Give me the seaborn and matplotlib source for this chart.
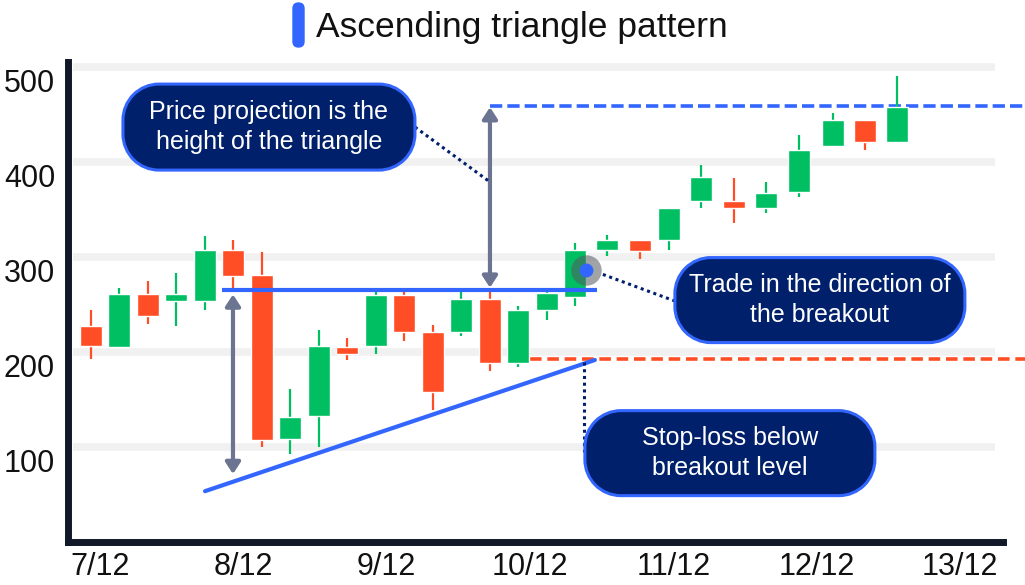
import matplotlib
matplotlib.use("Agg")
import matplotlib.pyplot as plt
import matplotlib.transforms as mtransforms
from matplotlib.patches import FancyBboxPatch, PathPatch
from matplotlib.path import Path
import numpy as np
import pandas as pd
import seaborn as sns

# session times in days (7.0 = 7/12)
sessions = [6.937, 7.133, 7.335, 7.530, 7.733, 7.928, 8.130, 8.326, 8.528, 8.723,
            8.926, 9.121, 9.323, 9.519, 9.721, 9.916, 10.119, 10.314, 10.537, 10.767,
            10.970, 11.193, 11.423, 11.647, 11.877, 12.114, 12.337, 12.560]
opens = [228, 206, 261, 254, 254, 308, 281, 109, 133, 206, 207, 260, 221, 221,
         256, 189, 245, 258, 308, 318, 318, 359, 359, 352, 369, 417, 444, 421]
highs = [245, 268, 275, 284, 322, 318, 306, 162, 224, 215, 268, 263, 229, 263,
         264, 249, 268, 315, 323, 318, 352, 397, 383, 379, 429, 452, 444, 491]
lows = [193, 205, 230, 228, 245, 265, 100, 93, 100, 192, 198, 212, 139, 217,
        180, 185, 234, 249, 301, 298, 308, 352, 336, 347, 363, 417, 413, 421]
closes = [207, 261, 238, 261, 308, 280, 108, 132, 207, 198, 260, 221, 158, 256,
          189, 245, 262, 308, 318, 307, 352, 385, 352, 368, 413, 444, 421, 458]

tick_days = [7, 8, 9, 10, 11, 12, 13]
tick_labels = ["7/12", "8/12", "9/12", "10/12", "11/12", "12/12", "13/12"]
price_ticks = [100, 200, 300, 400, 500]

# pattern levels
resistance = 266
stop_level = 193
target_level = 459
support_days = [7.733, 10.453]
support_prices = [54, 192]
breakout = (10.391, 287)

GREEN = "#00bf63"
RED = "#ff4d26"
BLUE = "#3366ff"
NAVY = "#00206b"
GREY = "#6b7591"
INK = "#111827"

sns.set_theme(style="white")
plt.rcParams["font.family"] = ["Liberation Sans", "DejaVu Sans"]

df = pd.DataFrame({"day": sessions, "open": opens, "high": highs,
                   "low": lows, "close": closes})
df["colour"] = np.where(df["close"] >= df["open"], GREEN, RED)

fig = plt.figure(figsize=(10.25, 5.85), dpi=100)
ax = fig.add_axes([0.06663, 0.07265, 0.91239, 0.82222])
ax.set_xlim(6.779, 13.304)
ax.set_ylim(0, 506)

# grid bands
ax.hlines(price_ticks, 6.812, 13.244, color="#f1f1f1", lw=5.5, zorder=0)

# candles
ax.vlines(df["day"], df["low"], df["high"], colors=df["colour"], lw=1.6, zorder=3)
ax.bar(df["day"], (df["close"] - df["open"]).abs(),
       bottom=df[["open", "close"]].min(axis=1), width=0.155,
       color=df["colour"], zorder=4)

# triangle lines
ax.plot([7.851, 10.467], [resistance, resistance], color=BLUE, lw=3,
        solid_capstyle="butt", zorder=5)
ax.plot(support_days, support_prices, color=BLUE, lw=3, zorder=5)
ax.plot([9.721, 13.454], [target_level, target_level], color=BLUE, lw=2.6,
        dashes=(3.4, 1.4), clip_on=False, zorder=2)
ax.plot([10.0, 13.454], [stop_level, stop_level], color=RED, lw=2.6,
        dashes=(3.2, 1.6), clip_on=False, zorder=2)

# height arrows
arrow = dict(arrowstyle="<|-|>,head_length=0.34,head_width=0.22", color=GREY,
             lw=3, shrinkA=0, shrinkB=0, mutation_scale=20)
ax.annotate("", xy=(7.928, 261), xytext=(7.928, 72), arrowprops=arrow, zorder=6)
ax.annotate("", xy=(9.721, 458), xytext=(9.721, 268), arrowprops=arrow, zorder=6)

# breakout marker
sns.scatterplot(x=[breakout[0]], y=[breakout[1]], s=480, color="#55595f",
                alpha=0.55, linewidth=0, ax=ax, zorder=7)
sns.scatterplot(x=[breakout[0]], y=[breakout[1]], s=100, color=BLUE,
                linewidth=0, ax=ax, zorder=8)

# dotted connectors
dot = dict(color=NAVY, lw=2.2, linestyle=(0, (1, 1.2)), zorder=7)
ax.plot([9.198, 9.714], [437, 380], **dot)
ax.plot([10.509, 11.012], [282, 254], **dot)
ax.plot([10.377, 10.377], [190, 95], **dot)


def rounded_rect(w, h, r):
    # rectangle centred on 0 with true circular corners
    corners = [(w / 2 - r, -h / 2 + r, -90), (w / 2 - r, h / 2 - r, 0),
               (-w / 2 + r, h / 2 - r, 90), (-w / 2 + r, -h / 2 + r, 180)]
    verts, codes = [], []
    for cx, cy, start in corners:
        arc = Path.arc(start, start + 90)
        pts = arc.vertices * r + [cx, cy]
        cds = list(arc.codes)
        cds[0] = Path.MOVETO if not verts else Path.LINETO
        verts.extend(pts)
        codes.extend(cds)
    verts.append(verts[0])
    codes.append(Path.CLOSEPOLY)
    return Path(verts, codes)


def callout(x, y, text, w=2.92, h=0.86):
    tr = fig.dpi_scale_trans + mtransforms.ScaledTranslation(x, y, ax.transData)
    box = PathPatch(rounded_rect(w, h, 0.36), facecolor=NAVY, edgecolor=BLUE,
                    lw=2.2, transform=tr, clip_on=False, zorder=9)
    ax.add_patch(box)
    ax.text(x, y, text, ha="center", va="center", color="white", fontsize=18,
            linespacing=1.3, zorder=10)


callout(8.179, 437, "Price projection is the\nheight of the triangle")
callout(12.023, 255, "Trade in the direction of\nthe breakout", w=2.90, h=0.85)
callout(11.395, 94, "Stop-loss below\nbreakout level", w=2.90, h=0.85)

# axes styling
for side in ["top", "right"]:
    ax.spines[side].set_visible(False)
for side in ["left", "bottom"]:
    ax.spines[side].set_color(INK)
    ax.spines[side].set_linewidth(5)
ax.grid(False)
ax.set_xticks(tick_days, tick_labels)
ax.set_yticks(price_ticks)
ax.tick_params(axis="both", length=0, labelsize=22, labelcolor="#111111")
ax.tick_params(axis="x", pad=6.5)
ax.tick_params(axis="y", pad=9.5)
shift = mtransforms.ScaledTranslation(0, -0.13, fig.dpi_scale_trans)
for lab in ax.get_yticklabels():
    lab.set_transform(lab.get_transform() + shift)

# title
fig.add_artist(FancyBboxPatch((2.93, 5.38), 0.11, 0.44,
                              boxstyle="round,pad=0,rounding_size=0.055",
                              color=BLUE, transform=fig.dpi_scale_trans))
fig.text(316 / 1025, 1 - 37 / 585, "Ascending triangle pattern", fontsize=25.5,
         ha="left", va="baseline", color="#111111")

fig.savefig("out.png", dpi=100)
